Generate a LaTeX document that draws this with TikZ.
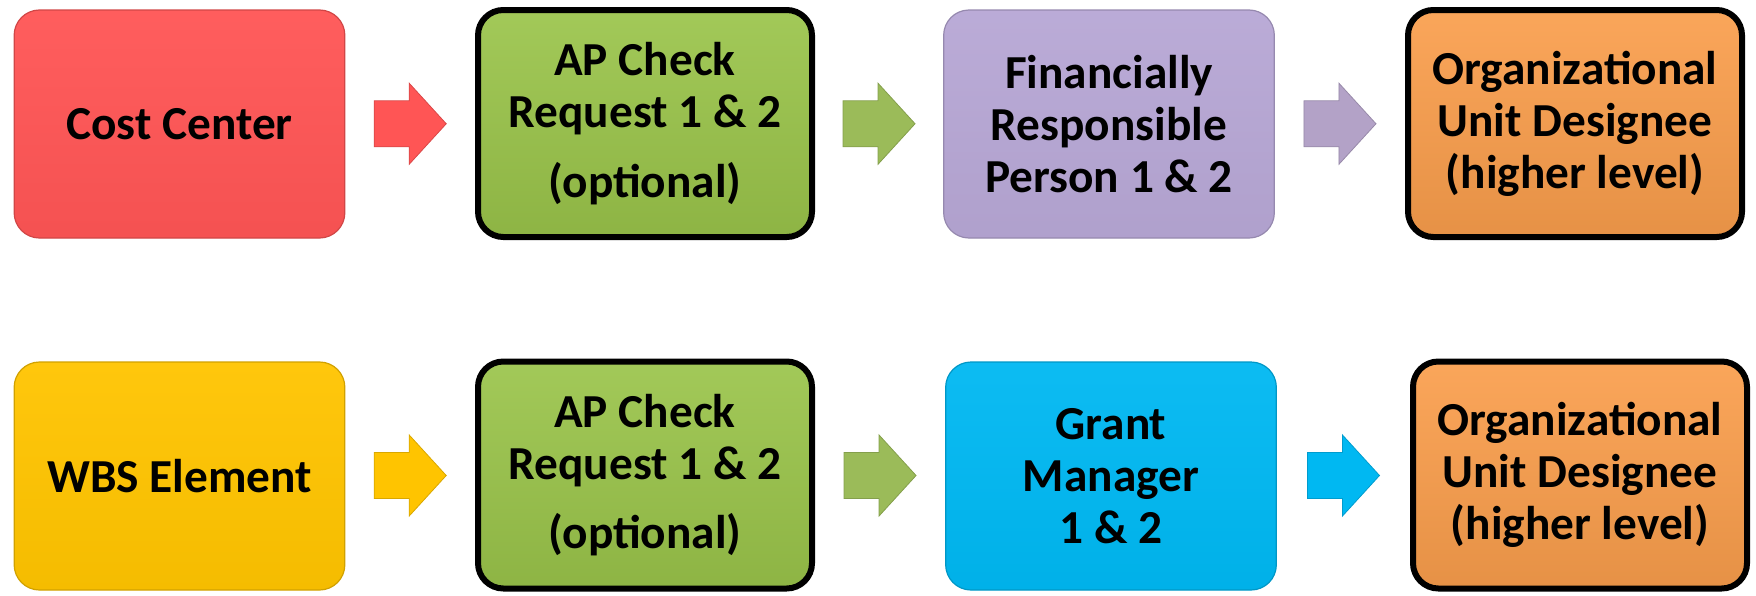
\documentclass[tikz,border=0pt]{standalone}
\usepackage{fontspec}
\setmainfont{Carlito}
\usetikzlibrary{calc}
\definecolor{cred}{HTML}{FF5555}
\definecolor{cgreen}{HTML}{9AC44A}
\definecolor{cgreenarrow}{HTML}{9BBB59}
\definecolor{cpurple}{HTML}{B7A7D5}
\definecolor{cpurplearrow}{HTML}{B3A2C7}
\definecolor{corange}{HTML}{FA9E4C}
\definecolor{cyellow}{HTML}{FFC400}
\definecolor{cblue}{HTML}{00B8F2}
\newcommand\blockarrow[2]{%
  \begin{scope}[shift={(#1)}]
  \filldraw[fill=#2, draw=#2!85!black, line width=0.6pt, line join=miter]
    (-36,-23) -- (-1,-23) -- (-1,-40.5) -- (36,0) -- (-1,40.5) -- (-1,23) -- (-36,23) -- cycle;
  \end{scope}}
\begin{document}
\begin{tikzpicture}[x=0.75pt,y=-0.75pt,
  box/.style={rounded corners=19pt, align=center, inner sep=0pt,
    font=\bfseries\fontsize{35.5}{39}\selectfont, text=black},
  plainbox/.style={box, top color=#1!95!white, bottom color=#1!96!black,
    draw=#1!82!black, line width=0.9pt, minimum width=248pt, minimum height=171pt},
  blackbox/.style={box, top color=#1!92!white, bottom color=#1!92!black,
    draw=black, line width=4.5pt, minimum width=250.5pt, minimum height=170.25pt}]
\useasboundingbox (0,0) rectangle (1756,596);
% row 1
\node[plainbox=cred] (cc) at (179.5,124) {Cost Center};
\node[blackbox=cgreen] (ap1) at (645,123.5) {AP Check\\Request 1 \& 2\\[13pt](optional)};
\node[plainbox=cpurple] (frp) at (1109,124) {Financially\\Responsible\\Person 1 \& 2};
\node[blackbox=corange] (org1) at (1575,123.5) {Organizational\\Unit Designee\\(higher level)};
% row 2
\node[plainbox=cyellow] (wbs) at (179.5,476) {WBS Element};
\node[blackbox=cgreen] (ap2) at (645,475) {AP Check\\Request 1 \& 2\\[13pt](optional)};
\node[plainbox=cblue] (gm) at (1111,476) {Grant\\Manager\\1 \& 2};
\node[blackbox=corange] (org2) at (1580,475) {Organizational\\Unit Designee\\(higher level)};
% arrows
\coordinate (a1) at ($(cc.east)!0.5!(ap1.west)$);
\coordinate (a2) at ($(ap1.east)!0.5!(frp.west)$);
\coordinate (a3) at ($(frp.east)!0.5!(org1.west)$);
\coordinate (b1) at ($(wbs.east)!0.5!(ap2.west)$);
\coordinate (b2) at ($(ap2.east)!0.5!(gm.west)$);
\coordinate (b3) at ($(gm.east)!0.5!(org2.west)$);
\blockarrow{a1}{cred}
\blockarrow{a2}{cgreenarrow}
\blockarrow{a3}{cpurplearrow}
\blockarrow{b1}{cyellow}
\blockarrow{b2}{cgreenarrow}
\blockarrow{b3}{cblue}
\end{tikzpicture}
\end{document}
